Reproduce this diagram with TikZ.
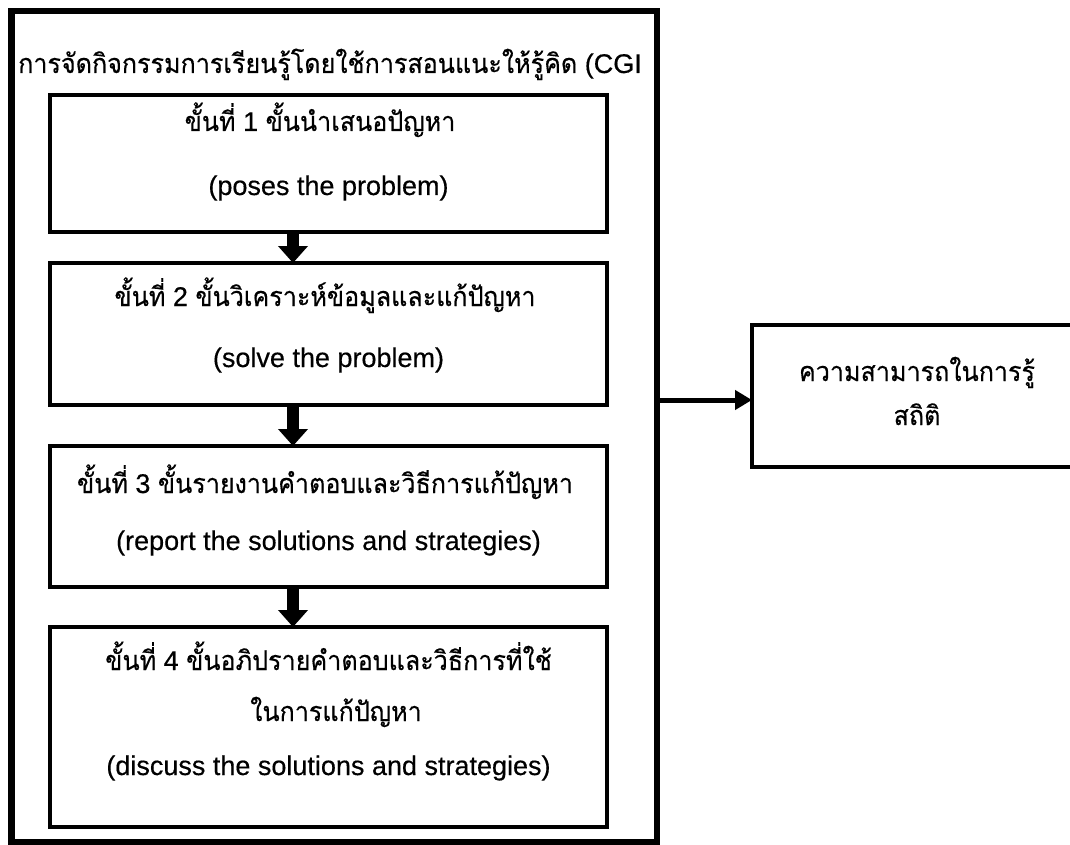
\documentclass[tikz,border=0pt]{standalone}
\usepackage{fontspec}
\setmainfont{Liberation Sans}[FakeBold=0.4]
\newfontfamily\thai[Script=Thai,FakeStretch=0.93,FakeBold=0.4]{Loma}
\usetikzlibrary{arrows.meta}
\begin{document}
\begin{tikzpicture}[x=1pt,y=-1pt]
\useasboundingbox (0,0) rectangle (1070,845);
\tikzset{
 outerbox/.style={draw, line width=6.5pt, outer sep=0pt, inner sep=0pt},
 stepbox/.style={draw, line width=3.5pt, minimum width=557pt, outer sep=0pt, inner sep=0pt},
 resultbox/.style={draw, line width=4pt, minimum width=330pt, minimum height=142pt, outer sep=0pt, inner sep=0pt},
 txt/.style={font=\fontsize{27}{32}\selectfont, inner sep=0pt, anchor=base},
 blockarrow/.style={line width=12pt, -{Triangle[width=29pt,length=17pt]}},
 flowarrow/.style={line width=5pt, -{Triangle[width=19pt,length=17pt]}},
}
\node[outerbox, minimum width=645.5pt, minimum height=831pt] (outer) at (334.25,426.5) {};
\node[stepbox, minimum height=137pt] (s1) at (328.5,163.5) {};
\node[stepbox, minimum height=142pt] (s2) at (328.5,334) {};
\node[stepbox, minimum height=141pt] (s3) at (328.5,516.5) {};
\node[stepbox, minimum height=200pt] (s4) at (328.5,727) {};
\node[resultbox] (res) at (917,396) {};

\node[txt, anchor=base west] (title) at (18,73) {{\thai การจัดกิจกรรมการเรียนรู้โดยใช้การสอนแนะให้รู้คิด} (CGI};

\node[txt] (s1a) at (320,131) {{\thai ขั้นที่} 1 {\thai ขั้นนำเสนอปัญหา}};
\node[txt] (s1b) at (328.5,195) {(poses the problem)};
\node[txt] (s2a) at (325,306) {{\thai ขั้นที่} 2 {\thai ขั้นวิเคราะห์ข้อมูลและแก้ปัญหา}};
\node[txt] (s2b) at (328.5,367) {(solve the problem)};
\node[txt] (s3a) at (325,493) {{\thai ขั้นที่} 3 {\thai ขั้นรายงานคำตอบและวิธีการแก้ปัญหา}};
\node[txt] (s3b) at (328.5,550) {(report the solutions and strategies)};
\node[txt] (s4a) at (328.5,670) {{\thai ขั้นที่} 4 {\thai ขั้นอภิปรายคำตอบและวิธีการที่ใช้}};
\node[txt] (s4b) at (336,721) {\thai ในการแก้ปัญหา};
\node[txt] (s4c) at (328.5,775) {(discuss the solutions and strategies)};

\node[txt] (resa) at (917,381) {\thai ความสามารถในการรู้};
\node[txt] (resb) at (917,425) {\thai สถิติ};

\draw[blockarrow] ([xshift=-35.5pt]s1.south) -- ([xshift=-35.5pt]s2.north);
\draw[blockarrow] ([xshift=-35.5pt]s2.south) -- ([xshift=-35.5pt]s3.north);
\draw[blockarrow] ([xshift=-35.5pt]s3.south) -- ([xshift=-35.5pt]s4.north);
\draw[flowarrow] ([yshift=-4pt]res.west -| outer.east) -- ([yshift=-4pt]res.west);
\end{tikzpicture}
\end{document}
